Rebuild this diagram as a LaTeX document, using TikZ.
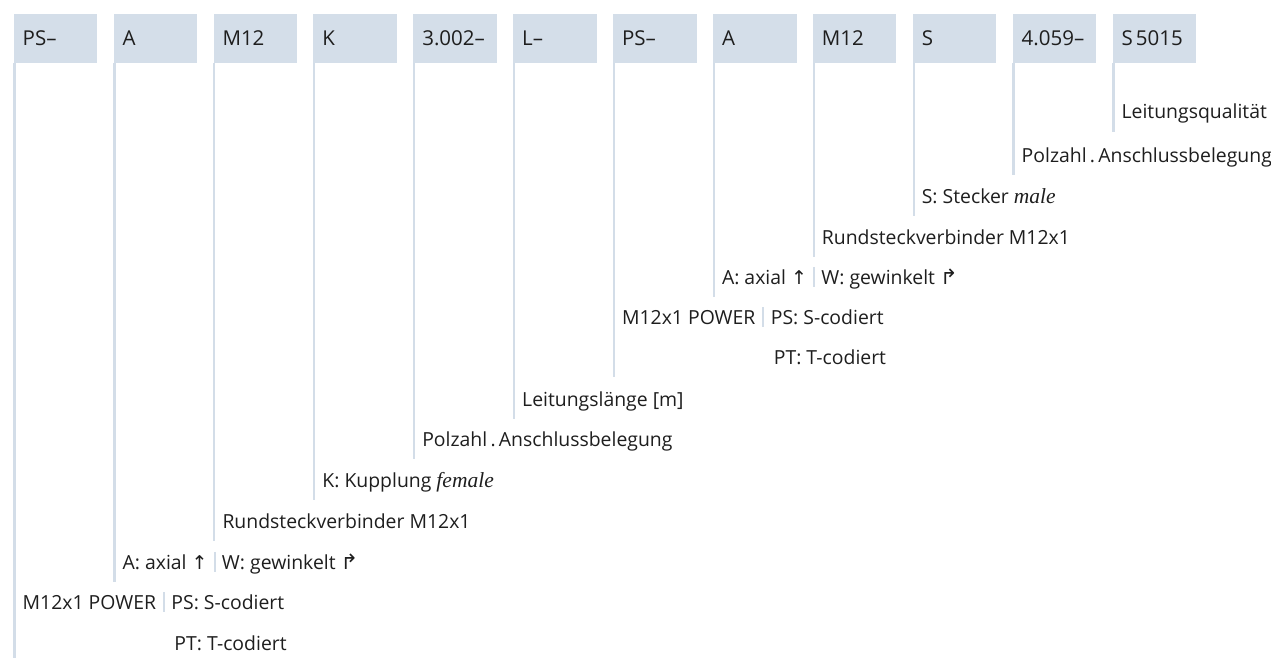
\documentclass[tikz,border=0pt]{standalone}
\usepackage{fontspec}
\setmainfont{Open Sans}
\newfontfamily\serfont{Liberation Serif}
\newfontfamily\symfont{DejaVu Sans}
\usetikzlibrary{calc}
\definecolor{boxfill}{HTML}{D4DEE9}
\definecolor{linec}{HTML}{D3DDE8}
\definecolor{txt}{HTML}{1E1E1E}
\newcommand{\fem}[1]{{\serfont\itshape\fontsize{21.5}{22}\selectfont #1}}
\newcommand{\arup}{{\symfont\fontsize{19}{20}\selectfont ↑}}
\newcommand{\arcorner}{{\symfont\fontsize{21}{22}\selectfont ↱}}
\begin{document}
\begin{tikzpicture}[x=1pt,y=-1pt,
  every node/.style={font=\fontsize{19.4}{22}\selectfont, text=txt},
  codebox/.style={fill=boxfill, draw=none, anchor=north west, inner ysep=0pt,
    inner xsep=9pt, text width=65.5pt, minimum height=49.5pt, align=left,
    font=\fontsize{20.5}{22}\selectfont},
  lbl/.style={anchor=base west, inner sep=0pt},
  vline/.style={draw=linec, line width=2.2pt},
  sepline/.style={draw=linec, line width=1.6pt}]
\useasboundingbox (0,0) rectangle (1271,658);
% code boxes
\node[codebox] (b0) at (13.5,13.5) {PS–};
\node[codebox] (b1) at (113.4,13.5) {A};
\node[codebox] (b2) at (213.3,13.5) {M12};
\node[codebox] (b3) at (313.2,13.5) {K};
\node[codebox] (b4) at (413.1,13.5) {3.002–};
\node[codebox] (b5) at (513.0,13.5) {L–};
\node[codebox] (b6) at (612.9,13.5) {PS–};
\node[codebox] (b7) at (712.8,13.5) {A};
\node[codebox] (b8) at (812.7,13.5) {M12};
\node[codebox] (b9) at (912.6,13.5) {S};
\node[codebox] (b10) at (1012.5,13.5) {4.059–};
\node[codebox] (b11) at (1112.4,13.5) {S\kern3pt5015};
% line ends
\coordinate (e0) at (14.5,658);
\coordinate (e1) at (114.4,582);
\coordinate (e2) at (214.3,541);
\coordinate (e3) at (314.2,500);
\coordinate (e4) at (414.1,459);
\coordinate (e5) at (514.0,419);
\coordinate (e6) at (613.9,377);
\coordinate (e7) at (713.8,297);
\coordinate (e8) at (813.7,257);
\coordinate (e9) at (913.6,216);
\coordinate (e10) at (1013.5,175);
\coordinate (e11) at (1113.4,132);
\foreach \i in {0,...,11}{
  \draw[vline] ([xshift=1pt]b\i.south west) -- (e\i);
}
% labels
\node[lbl] (l11) at (1121.4,119) {Leitungsqualität};
\node[lbl] (l10) at (1021.5,162) {Polzahl\,.\,Anschlussbelegung};
\node[lbl] (l9) at (921.6,203) {S: Stecker \fem{male}};
\node[lbl] (l8) at (821.7,244) {Rundsteckverbinder M12x1};
\node[lbl] (l7a) at (721.8,284) {A: axial \arup};
\coordinate (s7) at ($(l7a.east)+(7,0)$);
\draw[sepline] ($(s7)+(0,-10)$) -- ($(s7)+(0,10)$);
\node[lbl] (l7b) at ($(l7a.base east)+(14,0)$) {W: gewinkelt \arcorner};
\node[lbl] (l6a) at (621.9,324) {M12x1 POWER};
\coordinate (s6) at ($(l6a.east)+(7.5,0)$);
\draw[sepline] ($(s6)+(0,-10)$) -- ($(s6)+(0,10)$);
\node[lbl] (l6b) at ($(l6a.base east)+(15,0)$) {PS: S-codiert};
\node[lbl] (l6c) at ($(l6b.base west)+(3,40)$) {PT: T-codiert};
\node[lbl] (l5) at (522.0,406) {Leitungslänge [m]};
\node[lbl] (l4) at (422.1,446) {Polzahl\,.\,Anschlussbelegung};
\node[lbl] (l3) at (322.2,487) {K: Kupplung \fem{female}};
\node[lbl] (l2) at (222.3,528) {Rundsteckverbinder M12x1};
\node[lbl] (l1a) at (122.4,569) {A: axial \arup};
\coordinate (s1) at ($(l1a.east)+(7,0)$);
\draw[sepline] ($(s1)+(0,-10)$) -- ($(s1)+(0,10)$);
\node[lbl] (l1b) at ($(l1a.base east)+(14,0)$) {W: gewinkelt \arcorner};
\node[lbl] (l0a) at (22.5,609) {M12x1 POWER};
\coordinate (s0) at ($(l0a.east)+(7.5,0)$);
\draw[sepline] ($(s0)+(0,-10)$) -- ($(s0)+(0,10)$);
\node[lbl] (l0b) at ($(l0a.base east)+(15,0)$) {PS: S-codiert};
\node[lbl] (l0c) at ($(l0b.base west)+(3,41)$) {PT: T-codiert};
\end{tikzpicture}
\end{document}
